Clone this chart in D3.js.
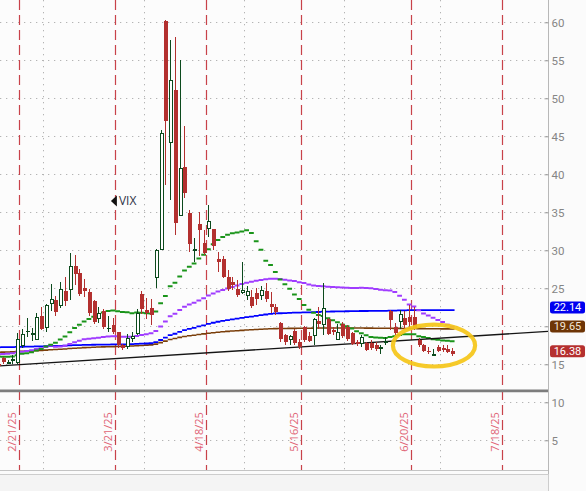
<!DOCTYPE html>
<html>
<head>
<meta charset="utf-8">
<script src="https://cdn.jsdelivr.net/npm/d3@7"></script>
<style>
  html, body { margin: 0; padding: 0; background: #fbfbfb; }
  svg { display: block; }
</style>
</head>
<body>
<svg id="chart" width="586" height="491"></svg>
<script>
// ---- VIX daily bars, 2/14/25 - 7/3/25 ----
const dates = ["2/14","2/18","2/19","2/20","2/21","2/24","2/25","2/26","2/27","2/28",
  "3/3","3/4","3/5","3/6","3/7","3/10","3/11","3/12","3/13","3/14","3/17","3/18","3/19","3/20","3/21","3/24","3/25","3/26","3/27","3/28","3/31",
  "4/1","4/2","4/3","4/4","4/7","4/8","4/9","4/10","4/11","4/14","4/15","4/16","4/17","4/21","4/22","4/23","4/24","4/25","4/28","4/29","4/30",
  "5/1","5/2","5/5","5/6","5/7","5/8","5/9","5/12","5/13","5/14","5/15","5/16","5/19","5/20","5/21","5/22","5/23","5/27","5/28","5/29","5/30",
  "6/2","6/3","6/4","6/5","6/6","6/9","6/10","6/11","6/12","6/13","6/16","6/17","6/18","6/20","6/23","6/24","6/25","6/26","6/27","6/30",
  "7/1","7/2","7/3"];

const open = [15.10,15.80,15.20,15.50,15.20,17.50,19.20,19.05,18.30,21.40,
  19.80,23.00,23.40,22.70,24.60,24.80,28.00,27.00,25.10,24.55,23.30,21.00,22.00,19.60,20.17,19.20,17.50,17.30,18.40,19.08,24.20,
  22.14,22.45,26.40,30.10,60.13,44.20,51.10,34.55,41.00,34.95,30.05,33.40,31.00,32.90,32.76,28.86,28.80,26.45,25.87,24.95,24.40,
  24.00,23.80,24.34,24.00,24.60,22.93,22.60,20.50,18.86,18.20,19.40,18.00,19.95,18.70,18.85,20.74,20.26,20.96,19.50,18.30,20.26,
  19.95,19.10,18.00,17.76,17.76,17.80,17.60,17.00,17.90,22.00,19.95,20.60,21.13,21.26,21.26,18.20,17.50,16.80,16.20,17.30,
  17.20,17.00,16.80];

const high = [15.50,16.00,15.60,16.20,19.08,19.70,21.10,19.80,21.70,22.50,
  23.00,25.60,24.00,25.80,26.45,29.60,29.40,27.50,26.20,24.90,23.50,22.60,22.30,21.40,21.10,19.30,17.70,19.00,19.20,22.30,24.60,
  23.70,23.60,30.20,45.80,60.30,57.70,58.10,55.00,46.30,35.30,31.60,35.10,32.70,35.96,32.80,29.80,29.30,27.40,26.50,26.10,28.40,
  25.30,24.80,25.00,25.30,25.66,24.50,23.00,20.60,19.00,18.90,19.60,18.30,20.10,19.30,21.10,22.50,25.66,21.10,19.90,20.30,20.60,
  20.20,19.30,18.20,18.90,18.00,18.20,17.90,17.60,18.60,22.10,20.50,22.20,22.00,22.80,22.50,18.40,17.70,17.30,17.00,17.60,
  17.60,17.50,17.10];

const low = [14.70,15.00,15.00,15.10,15.00,17.10,18.60,18.10,18.20,19.50,
  19.30,22.00,21.30,22.40,22.70,23.40,25.50,24.00,23.80,21.40,20.30,20.40,19.60,19.30,19.00,17.20,16.90,17.00,17.90,18.90,21.60,
  21.00,20.20,25.00,30.00,38.60,36.60,32.00,34.50,36.90,29.80,28.50,29.30,29.40,31.80,30.00,27.20,26.30,24.70,24.80,23.90,24.20,
  23.40,22.40,22.80,23.46,23.24,21.70,21.50,18.00,17.50,17.60,17.60,17.00,17.90,17.90,17.60,19.60,18.85,18.80,18.90,18.20,18.40,
  18.10,17.50,17.40,17.30,16.70,16.90,16.80,16.30,17.60,19.50,18.90,19.60,19.70,19.80,19.50,17.30,16.60,16.40,16.10,16.60,
  16.60,16.50,16.10];

const close = [14.77,15.35,15.27,15.66,18.21,18.98,19.43,19.10,21.13,19.63,
  22.78,23.51,21.93,24.87,23.37,27.86,26.92,24.23,24.66,21.77,20.51,21.70,19.90,19.80,19.28,17.48,17.15,18.33,18.69,21.65,22.28,
  21.77,21.51,30.02,45.31,46.98,52.33,33.62,40.72,37.56,30.89,30.12,32.64,29.65,33.82,30.57,28.45,26.47,24.95,25.50,24.17,24.70,
  24.60,22.68,23.64,24.76,23.55,22.48,21.90,18.39,18.00,18.62,17.83,17.24,18.14,18.09,20.87,20.28,22.29,18.96,19.31,19.18,18.70,
  18.36,17.69,17.61,18.48,16.90,17.16,16.95,17.26,18.02,20.82,19.11,21.60,20.14,20.62,19.83,17.48,16.76,16.59,16.32,16.73,
  16.83,16.64,16.38];

// ---- moving averages, one value per bar ----
const ma20 = [16.02,15.99,16.00,16.03,16.19,16.39,16.47,16.60,16.83,17.02,17.34,17.58,17.82,18.27,18.67,19.23,19.79,20.20,20.64,20.97,
  21.26,21.58,21.81,22.01,22.07,21.99,21.88,21.84,21.72,21.82,21.79,21.71,21.69,21.94,23.04,24.00,25.27,25.74,26.54,27.33,
  27.85,28.27,28.91,29.40,30.13,30.78,31.35,31.75,32.06,32.24,32.33,32.48,32.63,32.26,31.18,30.07,28.63,28.07,27.13,26.17,
  25.52,24.94,24.20,23.58,22.80,22.17,21.79,21.48,21.36,21.05,20.80,20.53,20.23,20.01,19.71,19.35,19.10,18.82,18.58,18.51,
  18.48,18.45,18.60,18.70,18.87,18.97,18.96,18.94,18.70,18.59,18.45,18.31,18.22,18.14,18.09,18.02];

const ma50 = [16.32,16.36,16.40,16.44,16.55,16.64,16.75,16.86,17.00,17.12,17.28,17.44,17.32,17.34,17.44,17.66,17.91,18.10,18.28,18.36,
  18.43,18.50,18.58,18.65,18.68,18.68,18.63,18.61,18.61,18.72,18.84,18.95,19.08,19.38,19.99,20.63,21.32,21.66,22.14,22.58,
  22.87,23.10,23.41,23.68,24.05,24.33,24.58,24.79,24.97,25.17,25.36,25.55,25.73,25.87,25.98,26.10,26.18,26.25,26.26,26.24,
  26.14,26.04,25.96,25.81,25.70,25.51,25.38,25.31,25.26,25.20,25.18,25.13,25.10,25.07,25.04,25.04,25.07,25.04,25.01,24.91,
  24.81,24.74,24.72,24.51,24.03,23.50,22.86,22.59,22.12,21.70,21.42,21.14,20.82,20.57,20.22,19.94];

const ma100 = [17.24,17.25,17.26,17.27,17.29,17.30,17.32,17.33,17.35,17.36,17.38,17.40,17.41,17.43,17.45,17.48,17.51,17.53,17.55,17.56,
  17.57,17.58,17.59,17.60,17.61,17.61,17.62,17.63,17.65,17.68,17.71,17.74,17.77,17.92,18.20,18.50,18.84,19.02,19.27,19.49,
  19.65,19.80,19.98,20.13,20.32,20.47,20.60,20.71,20.81,20.91,21.00,21.10,21.20,21.28,21.37,21.46,21.55,21.63,21.69,21.72,
  21.74,21.77,21.79,21.80,21.82,21.83,21.86,21.88,21.92,21.93,21.95,21.96,21.97,21.98,21.99,22.00,22.01,22.01,22.02,22.02,
  22.03,22.04,22.06,22.07,22.09,22.10,22.12,22.13,22.13,22.13,22.13,22.13,22.14,22.14,22.14,22.14];

const ma200 = [16.58,16.60,16.62,16.64,16.67,16.70,16.73,16.76,16.80,16.83,16.87,16.91,16.94,16.98,17.02,17.07,17.11,17.15,17.19,17.22,
  17.24,17.27,17.29,17.31,17.33,17.34,17.36,17.38,17.40,17.44,17.48,17.52,17.55,17.66,17.85,18.05,18.27,18.39,18.54,18.66,
  18.75,18.83,18.93,19.00,19.09,19.16,19.22,19.28,19.33,19.38,19.42,19.47,19.51,19.54,19.58,19.62,19.65,19.68,19.70,19.71,
  19.72,19.73,19.73,19.74,19.74,19.75,19.76,19.77,19.78,19.78,19.78,19.78,19.78,19.78,19.77,19.77,19.77,19.76,19.76,19.75,
  19.75,19.74,19.74,19.73,19.73,19.72,19.72,19.71,19.70,19.69,19.68,19.67,19.67,19.66,19.66,19.65];

// ---- axis / annotation values ----
const yTicks = [5, 10, 15, 20, 25, 30, 35, 40, 45, 50, 55, 60];
const eventLabels = ["2/21/25", "3/21/25", "4/18/25", "5/16/25", "6/20/25", "7/18/25"];
const eventBars = [4, 24, 43, 63, 86, 105];        // bar slot each dashed marker follows
const monthEndBars = [9, 30, 51, 72, 92];          // last session of each month
const trendLine = [[0.4, 14.79], [115.05, 19.33]]; // [bar, value] rising support
const floorLevel = 11.5;
const lastValues = [22.14, 19.65, 16.38];
const lastValueColors = ["#0000f0", "#6e3506", "#b5302f"];
const lastValueText = ["#ffffff", "#f3e6d8", "#ffffff"];
const highlight = { bar: 91.2, value: 17.47, barRadius: 8.6, valueRadius: 2.76 };
const symbolTag = { bar: 23.6, value: 36.5, text: "VIX" };

// ---- layout ----
const W = 586, H = 491;
const plotW = 548, plotH = 470;
const svg = d3.select("#chart");

const x = d3.scaleLinear().domain([0.4, 115.05]).range([0, plotW]);
const y = d3.scaleLinear().domain([0, 60]).range([478.3, 22.3]);
const slot = x(1) - x(0);

const GREEN = "#0c4a1d", RED = "#b3302f";
const FONT = "'Open Sans', 'Liberation Sans', sans-serif";
const AXIS_FONT = "Roboto, 'Open Sans', sans-serif";

svg.append("rect").attr("width", W).attr("height", H).attr("fill", "#fbfbfb");
svg.append("rect").attr("width", plotW).attr("height", plotH).attr("fill", "#fcfcfc");

svg.append("defs").append("clipPath").attr("id", "plotClip")
  .append("rect").attr("width", plotW).attr("height", plotH);

const plot = svg.append("g").attr("clip-path", "url(#plotClip)");

// dotted grid
plot.append("g").selectAll("line").data(yTicks).join("line")
  .attr("x1", 0).attr("x2", plotW)
  .attr("y1", d => Math.round(y(d)) + 0.5).attr("y2", d => Math.round(y(d)) + 0.5)
  .attr("stroke", "#b4b4b4").attr("stroke-width", 1).attr("stroke-dasharray", "1.3,4.7");
plot.append("g").selectAll("line").data(monthEndBars).join("line")
  .attr("x1", d => Math.round(x(d + 0.45)) + 0.5).attr("x2", d => Math.round(x(d + 0.45)) + 0.5)
  .attr("y1", 0).attr("y2", plotH)
  .attr("stroke", "#b4b4b4").attr("stroke-width", 1).attr("stroke-dasharray", "1.3,4.7");

// red dashed event markers
plot.append("g").selectAll("line").data(eventBars).join("line")
  .attr("x1", d => Math.round(x(d + 0.45)) + 0.5).attr("x2", d => Math.round(x(d + 0.45)) + 0.5)
  .attr("y1", 0).attr("y2", plotH)
  .attr("stroke", "#c8424a").attr("stroke-width", 1.2).attr("stroke-dasharray", "10,5");

// event dates, rotated
plot.append("g").selectAll("text").data(eventBars).join("text")
  .attr("transform", (d) => `translate(${x(d + 0.45) - 3},${y(6.1)}) rotate(-90)`)
  .attr("text-anchor", "middle")
  .attr("font-family", FONT).attr("font-size", 11).attr("fill", "#e06475")
  .text((d, i) => eventLabels[i]);

// horizontal floor level
plot.append("line")
  .attr("x1", 0).attr("x2", plotW).attr("y1", y(floorLevel)).attr("y2", y(floorLevel))
  .attr("stroke", "#7d7d7d").attr("stroke-width", 2.6);

// moving averages drawn as one flat step per bar
function stepPath(vals) {
  return vals.map((v, k) => `M${x(k) - slot / 2},${y(v)}H${x(k) + slot / 2}`).join("");
}
const maSeries = [
  { vals: ma200, color: "#7a3e0a", w: 1.6 },
  { vals: ma100, color: "#0000ff", w: 1.8 },
  { vals: ma50, color: "#a03cff", w: 2 },
  { vals: ma20, color: "#1a941a", w: 2 }
];
plot.append("g").selectAll("path").data(maSeries).join("path")
  .attr("d", d => stepPath(d.vals))
  .attr("fill", "none").attr("stroke", d => d.color).attr("stroke-width", d => d.w);

// rising trend line
plot.append("line")
  .attr("x1", x(trendLine[0][0])).attr("y1", y(trendLine[0][1]))
  .attr("x2", x(trendLine[1][0])).attr("y2", y(trendLine[1][1]))
  .attr("stroke", "#151515").attr("stroke-width", 1.4);

// candles
const bars = dates.map((d, k) => ({ k, o: open[k], h: high[k], l: low[k], c: close[k] }));
const cg = plot.append("g").attr("shape-rendering", "crispEdges");
bars.forEach(b => {
  const up = b.c >= b.o;
  const col = up ? GREEN : RED;
  const cx = Math.round(x(b.k)) + 0.5;
  cg.append("line").attr("x1", cx).attr("x2", cx).attr("y1", y(b.h)).attr("y2", y(b.l))
    .attr("stroke", col).attr("stroke-width", 1);
  const top = y(Math.max(b.o, b.c)), bot = y(Math.min(b.o, b.c));
  const hgt = bot - top;
  if (up && hgt > 2) {
    cg.append("rect").attr("x", cx - 1.5).attr("y", top).attr("width", 3).attr("height", hgt)
      .attr("fill", "#ffffff").attr("stroke", col).attr("stroke-width", 1);
  } else {
    cg.append("rect").attr("x", cx - 2).attr("y", top).attr("width", 4).attr("height", Math.max(hgt, 1.5))
      .attr("fill", col);
  }
});

// highlighted zone
plot.append("ellipse")
  .attr("cx", x(highlight.bar)).attr("cy", y(highlight.value))
  .attr("rx", x(highlight.bar + highlight.barRadius) - x(highlight.bar))
  .attr("ry", y(highlight.value - highlight.valueRadius) - y(highlight.value))
  .attr("fill", "none").attr("stroke", "#f5c518").attr("stroke-width", 4.2).attr("opacity", 0.92);

// symbol tag
const tx = x(symbolTag.bar), ty = y(symbolTag.value);
plot.append("path")
  .attr("d", `M${tx},${ty}L${tx + 6},${ty - 5.5}L${tx + 6},${ty + 5.5}Z`).attr("fill", "#111");
plot.append("text").attr("x", tx + 8).attr("y", ty + 4.5)
  .attr("font-family", FONT).attr("font-size", 12).attr("fill", "#2e3346").text(symbolTag.text);

// plot frame lines
svg.append("line").attr("x1", plotW + 0.5).attr("x2", plotW + 0.5).attr("y1", 0).attr("y2", H)
  .attr("stroke", "#b8b8b8");
svg.append("line").attr("x1", 0).attr("x2", plotW).attr("y1", plotH + 0.5).attr("y2", plotH + 0.5)
  .attr("stroke", "#c4c4c4");
svg.append("rect").attr("x", -1).attr("y", 474.5).attr("width", plotW + 1.5).attr("height", 20)
  .attr("fill", "#f4f4f4").attr("stroke", "#cdcdcd");

// right price axis; a tick label sitting under a last-value tag is left out
const coveredByTag = t => lastValues.some(v => Math.abs(y(t) - y(v)) < 9);
const axis = d3.axisRight(y).tickValues(yTicks).tickSizeInner(-4).tickSizeOuter(0).tickPadding(3)
  .tickFormat(t => coveredByTag(t) ? "" : String(t));
const ag = svg.append("g").attr("transform", `translate(${plotW + 0.5},0)`).call(axis);
ag.select(".domain").remove();
ag.selectAll(".tick line").attr("stroke", "#9a9a9a");
ag.selectAll(".tick text").attr("font-family", AXIS_FONT).attr("font-size", 11.5).attr("fill", "#858585")
  .attr("transform", "translate(0,0.6)");

// last-value tags
const tg = svg.append("g").selectAll("g").data(lastValues).join("g")
  .attr("transform", d => `translate(${plotW + 2},${y(d) - 2.5})`);
tg.append("rect").attr("x", 0).attr("y", -6).attr("width", 35).attr("height", 12).attr("rx", 2.5)
  .attr("fill", (d, i) => lastValueColors[i]);
tg.append("text").attr("x", 17.5).attr("y", 3.8).attr("text-anchor", "middle")
  .attr("font-family", AXIS_FONT).attr("font-size", 11).attr("fill", (d, i) => lastValueText[i])
  .text(d => d.toFixed(2));
</script>
</body>
</html>
